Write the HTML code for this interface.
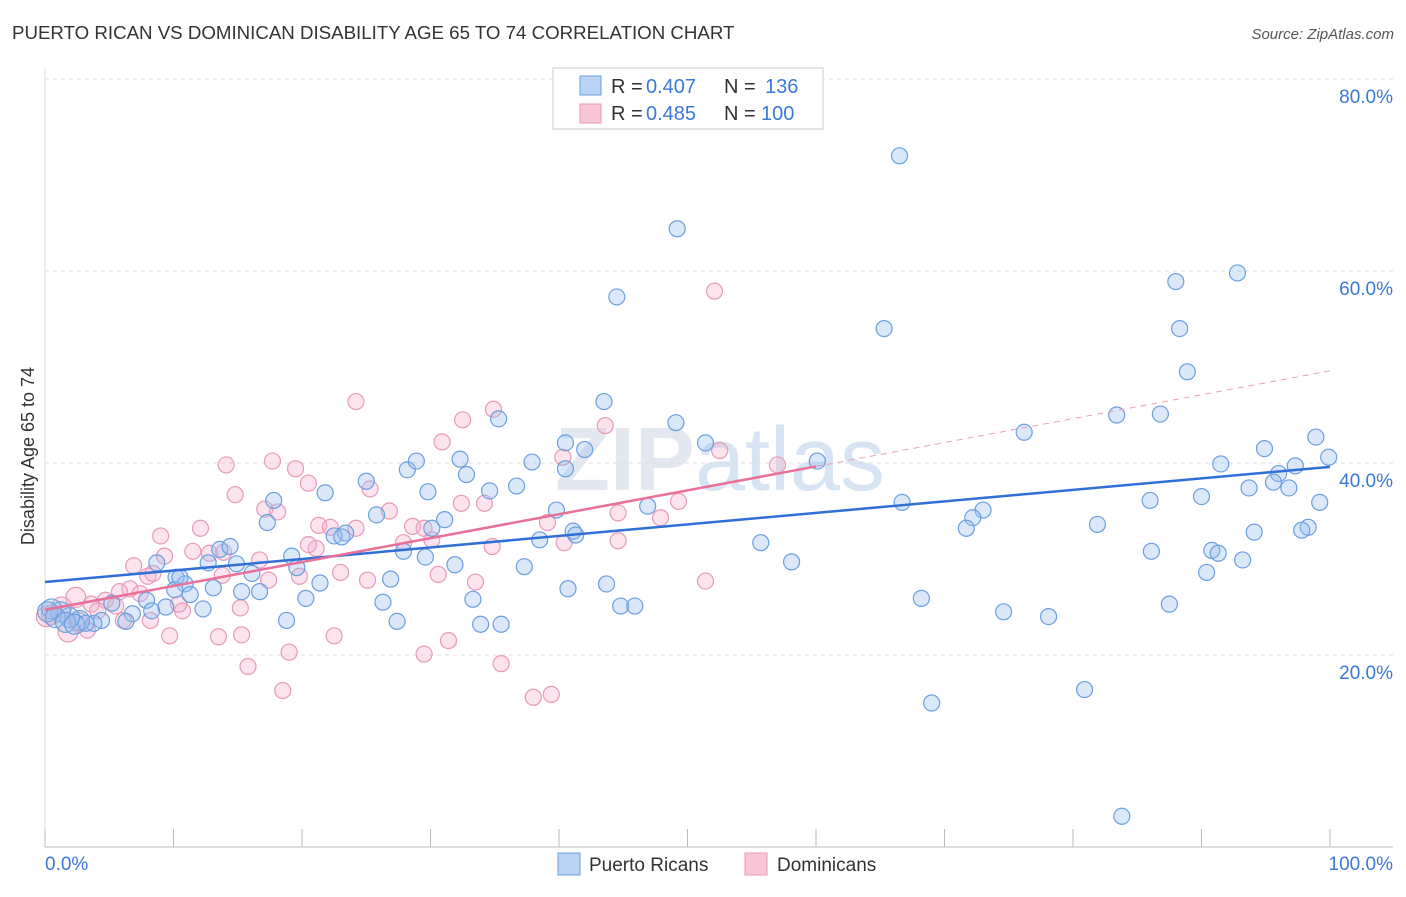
<!DOCTYPE html>
<html><head><meta charset="utf-8"><style>
body{margin:0;background:#fff;font-family:"Liberation Sans",sans-serif}
svg text{font-family:"Liberation Sans",sans-serif}
</style></head><body>
<svg id="chart" width="1406" height="892">
<text x="12" y="39" font-size="18.7" fill="#333">PUERTO RICAN VS DOMINICAN DISABILITY AGE 65 TO 74 CORRELATION CHART</text>
<text x="1394" y="39" font-size="15" fill="#555" font-style="italic" text-anchor="end">Source: ZipAtlas.com</text>
<text x="34" y="456" font-size="18" fill="#333" text-anchor="middle" transform="rotate(-90 34 456)">Disability Age 65 to 74</text>
<text x="720" y="490" font-size="90" fill="#e3e8f0" text-anchor="middle" font-weight="bold">ZIP<tspan font-weight="normal" fill="#d6e4f4">atlas</tspan></text>
<g id="grid"></g><g id="marks"></g><g id="trends"></g>
<g>
<rect x="553" y="68" width="270" height="61" fill="#fff" stroke="#ccc"/>
<rect x="580" y="76" width="21" height="19" fill="#b9d3f3" stroke="#6a9fe0"/>
<rect x="580" y="104" width="21" height="19" fill="#f8c6d6" stroke="#e89ab8"/>
<g font-size="20">
<text x="611" y="93" fill="#333">R =</text><text x="646" y="93" fill="#3b78d8">0.407</text>
<text x="724" y="93" fill="#333">N =</text><text x="765" y="93" fill="#3b78d8">136</text></g>
<g font-size="20">
<text x="611" y="120" fill="#333">R =</text><text x="646" y="120" fill="#3b78d8">0.485</text>
<text x="724" y="120" fill="#333">N =</text><text x="761" y="120" fill="#3b78d8">100</text></g>
</g>
<g>
<rect x="558" y="853" width="22" height="22" fill="#b9d3f3" stroke="#6a9fe0"/>
<text x="589" y="871" font-size="19" fill="#333">Puerto Ricans</text>
<rect x="745" y="853" width="22" height="22" fill="#f8c6d6" stroke="#e89ab8"/>
<text x="777" y="871" font-size="19" fill="#333">Dominicans</text>
</g>
</svg>
<script>
const yTicks=[20,40,60,80];
const xTickLabels=["0.0%","100.0%"];
const blueX=[66.5,49.2,44.5,65.3,88.0,92.8,88.3,88.9,43.5,35.3,49.1,51.4,76.2,83.4,86.8,98.9,94.9,99.9,91.5,97.3,96.0,95.6,96.8,93.7,90.0,86.0,99.2,66.7,73.0,72.2,71.7,81.9,98.3,97.8,94.1,86.1,90.8,91.3,93.2,90.4,60.1,55.7,58.1,68.2,74.6,78.1,87.5,80.9,69.0,83.8,32.3,28.2,28.9,37.9,40.5,32.8,36.7,34.6,29.8,40.5,42.0,17.8,21.8,25.0,17.3,25.8,31.1,30.1,39.8,46.9,41.1,41.3,38.5,23.4,22.5,23.1,19.2,19.6,27.9,29.6,31.9,37.3,40.7,43.7,44.8,45.9,21.4,26.9,33.3,20.3,26.3,27.4,33.9,35.5,18.8,13.6,14.4,12.7,14.9,8.7,10.2,10.9,16.1,16.7,15.3,10.1,11.3,12.3,9.4,7.9,5.2,6.8,8.3,6.3,4.4,3.8,2.7,1.9,1.2,0.5,0.2,0.8,1.6,2.3,3.2,10.5,13.1];
const blueY=[72.0,64.4,57.3,54.0,58.9,59.8,54.0,49.5,46.4,44.6,44.2,42.1,43.2,45.0,45.1,42.7,41.5,40.6,39.9,39.7,38.9,38.0,37.4,37.4,36.5,36.1,35.9,35.9,35.1,34.3,33.2,33.6,33.3,33.0,32.8,30.8,30.9,30.6,29.9,28.6,40.2,31.7,29.7,25.9,24.5,24.0,25.3,16.4,15.0,3.2,40.4,39.3,40.2,40.1,39.4,38.8,37.6,37.1,37.0,42.1,41.4,36.1,36.9,38.1,33.8,34.6,34.1,33.2,35.1,35.5,32.9,32.5,32.0,32.7,32.4,32.3,30.3,29.1,30.8,30.2,29.4,29.2,26.9,27.4,25.1,25.1,27.5,27.9,25.8,25.9,25.5,23.5,23.2,23.2,23.6,31.0,31.3,29.6,29.5,29.6,28.1,27.4,28.5,26.6,26.6,26.8,26.3,24.8,25.0,25.7,25.4,24.3,24.6,23.5,23.6,23.3,23.6,23.9,24.5,24.8,24.5,23.9,23.4,23.2,23.3,28.1,27.0];
const pinkX=[52.1,24.2,34.9,32.5,43.6,30.9,52.5,40.3,57.0,14.1,17.7,19.5,20.5,25.3,32.4,14.8,17.1,18.1,26.8,21.3,22.2,24.2,28.6,29.5,30.1,34.2,49.3,44.6,47.9,39.1,40.4,44.6,34.8,27.9,21.1,20.5,9.0,12.1,9.3,11.5,12.8,13.9,16.7,6.9,8.0,13.8,8.4,6.6,17.4,19.8,23.0,25.1,30.6,33.5,51.4,4.7,3.6,4.1,5.5,5.8,7.4,6.1,8.2,10.7,10.4,15.2,9.7,13.5,15.3,19.0,22.5,31.4,29.5,15.8,18.5,35.5,38.0,39.4,2.4,1.3,1.8,3.3,2.6,0.5,0.1];
const pinkY=[57.9,46.4,45.6,44.5,43.9,42.2,41.3,40.6,39.8,39.8,40.2,39.4,37.9,37.3,35.8,36.7,35.2,34.9,35.0,33.5,33.3,33.2,33.4,33.2,32.0,35.8,36.0,34.8,34.3,33.8,31.7,31.9,31.3,31.7,31.1,31.5,32.4,33.2,30.3,30.8,30.6,30.7,29.9,29.3,28.2,28.3,28.5,26.9,27.8,28.2,28.6,27.8,28.4,27.6,27.7,25.7,25.3,24.6,25.1,26.6,26.4,23.6,23.6,24.6,25.3,24.9,22.0,21.9,22.1,20.3,22.0,21.5,20.1,18.8,16.3,19.1,15.6,15.9,26.0,25.0,22.4,22.6,23.4,24.2,24.0];
const blueTrend=[27.6,39.6];
const pinkTrend=[24.7,49.6];
const pinkSolidEnd=60;

const X0=45,X1=1330,Y0=847,PX=9.6;
const sx=v=>X0+(X1-X0)*v/100;
const sy=v=>Y0-v*PX;
const NS="http://www.w3.org/2000/svg";
function mk(tag,attrs,parent){const e=document.createElementNS(NS,tag);for(const k in attrs)e.setAttribute(k,attrs[k]);parent.appendChild(e);return e;}
const grid=document.getElementById('grid');
yTicks.forEach(t=>{
  const l=mk('line',{x1:45,x2:1393,y1:sy(t),y2:sy(t),stroke:'#ddd','stroke-dasharray':'4,4'},grid);
  
  
  const tx=mk('text',{x:1393,y:sy(t)+24,'font-size':19,fill:'#3b78d8','text-anchor':'end'},grid);
  tx.textContent=t.toFixed(1)+'%';
  
  
});
const ax=mk('line',{x1:45,x2:1393,y1:847,y2:847,stroke:'#bbb'},grid);


const ay=mk('line',{x1:45,x2:45,y1:68,y2:847,stroke:'#ddd'},grid);


for(let i=0;i<=10;i++){
  const t=mk('line',{x1:sx(i*10),x2:sx(i*10),y1:829,y2:847,stroke:'#bbb'},grid);
  
  
}
[[0,'start',45],[100,'end',1393]].forEach((d,i)=>{
  const t=mk('text',{x:d[2],y:870,'font-size':19,fill:'#3b78d8','text-anchor':d[1]},grid);
  t.textContent=xTickLabels[i];
  
  
});
const marks=document.getElementById('marks');
pinkX.forEach((x,i)=>{
  const c=mk('circle',{cx:sx(x),cy:sy(pinkY[i]),r:x<3?10:8,fill:'rgba(246,176,202,0.35)',stroke:'#e89ab8','stroke-width':1.2},marks);
  
  
});
blueX.forEach((x,i)=>{
  const c=mk('circle',{cx:sx(x),cy:sy(blueY[i]),r:x<3?10:8,fill:'rgba(150,190,238,0.35)',stroke:'#6a9fe0','stroke-width':1.2},marks);
  
  
});
const tr=document.getElementById('trends');
const bl=mk('line',{x1:sx(0),y1:sy(blueTrend[0]),x2:sx(100),y2:sy(blueTrend[1]),stroke:'#2f6fd6','stroke-width':2.5},tr);


const pm=pinkTrend[0]+(pinkTrend[1]-pinkTrend[0])*pinkSolidEnd/100;
const pl=mk('line',{x1:sx(0),y1:sy(pinkTrend[0]),x2:sx(pinkSolidEnd),y2:sy(pm),stroke:'#e8709a','stroke-width':2.5},tr);


const pd=mk('line',{x1:sx(pinkSolidEnd),y1:sy(pm),x2:sx(100),y2:sy(pinkTrend[1]),stroke:'#e8a0b8','stroke-width':1,'stroke-dasharray':'6,5'},tr);


</script>
</body></html>
